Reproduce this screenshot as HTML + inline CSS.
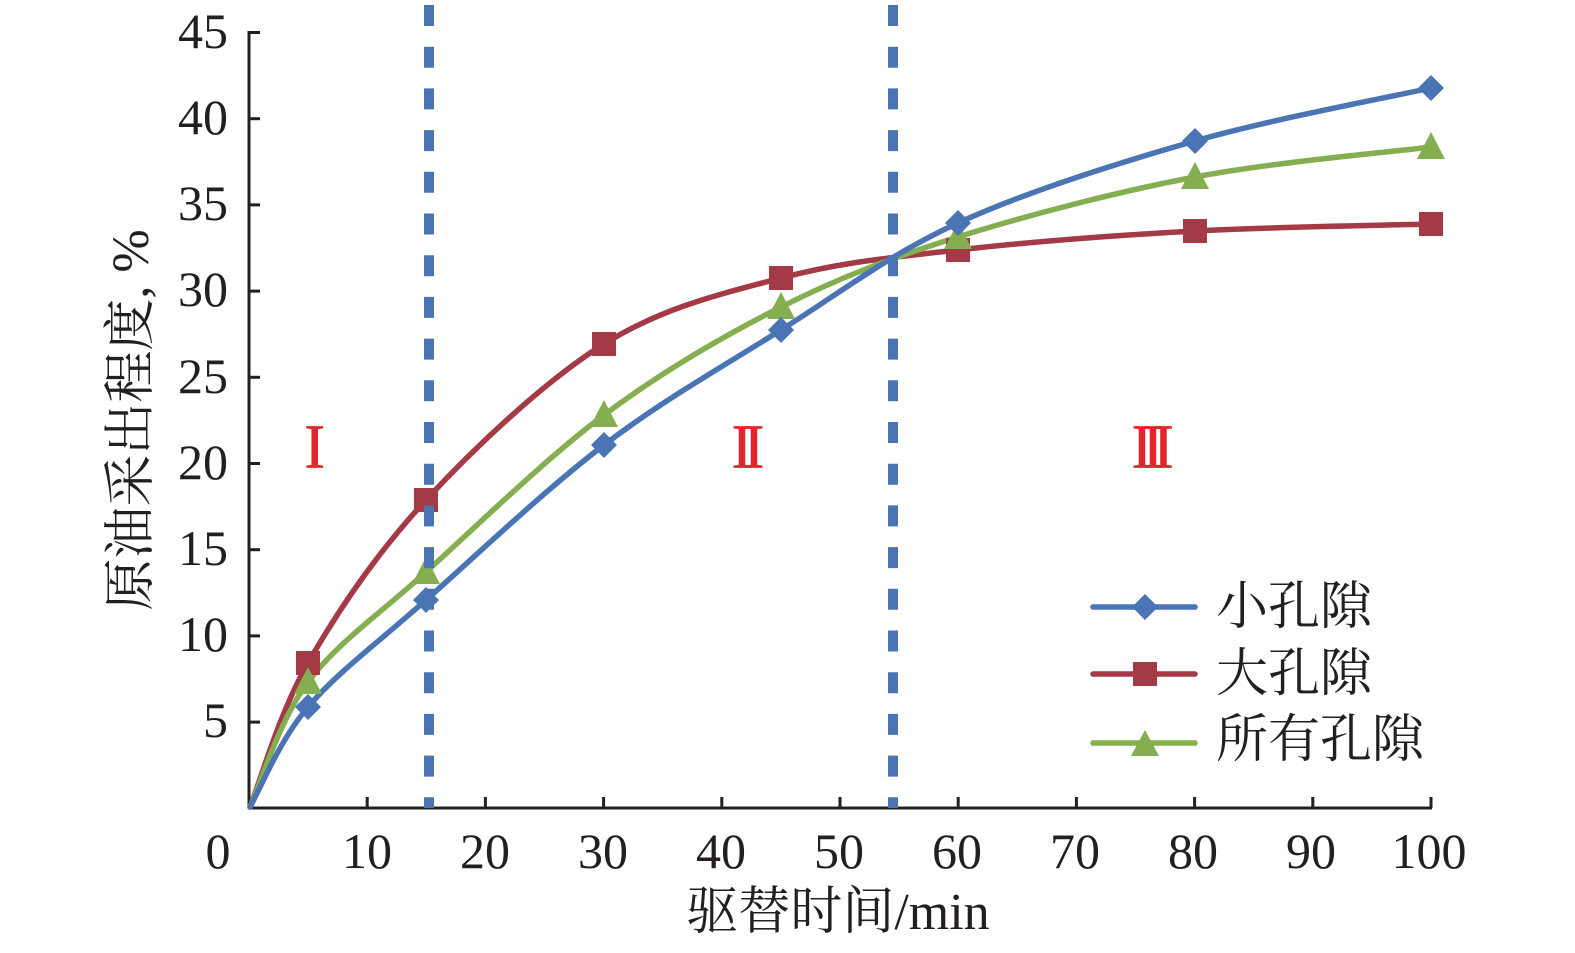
<!DOCTYPE html>
<html>
<head>
<meta charset="utf-8">
<style>
  html,body{margin:0;padding:0;background:#fff;}
  svg{display:block;}
</style>
</head>
<body>
<svg width="1575" height="953" viewBox="0 0 1575 953" xmlns="http://www.w3.org/2000/svg">
  <rect width="1575" height="953" fill="#fff"/>

  <!-- Axes -->
  <g stroke="#231f20" stroke-width="3" fill="none">
    <line x1="249" y1="31" x2="249" y2="809"/>
    <line x1="248" y1="808" x2="1432" y2="808"/>
    <!-- y ticks -->
    <line x1="249" y1="32.5" x2="260" y2="32.5"/>
    <line x1="249" y1="118.7" x2="260" y2="118.7"/>
    <line x1="249" y1="204.9" x2="260" y2="204.9"/>
    <line x1="249" y1="291.1" x2="260" y2="291.1"/>
    <line x1="249" y1="377.3" x2="260" y2="377.3"/>
    <line x1="249" y1="463.5" x2="260" y2="463.5"/>
    <line x1="249" y1="549.7" x2="260" y2="549.7"/>
    <line x1="249" y1="635.9" x2="260" y2="635.9"/>
    <line x1="249" y1="722.1" x2="260" y2="722.1"/>
    <!-- x ticks -->
    <line x1="367.2" y1="808" x2="367.2" y2="797"/>
    <line x1="485.4" y1="808" x2="485.4" y2="797"/>
    <line x1="603.6" y1="808" x2="603.6" y2="797"/>
    <line x1="721.8" y1="808" x2="721.8" y2="797"/>
    <line x1="840" y1="808" x2="840" y2="797"/>
    <line x1="958.2" y1="808" x2="958.2" y2="797"/>
    <line x1="1076.4" y1="808" x2="1076.4" y2="797"/>
    <line x1="1194.6" y1="808" x2="1194.6" y2="797"/>
    <line x1="1312.8" y1="808" x2="1312.8" y2="797"/>
    <line x1="1431" y1="808" x2="1431" y2="797"/>
  </g>

  <!-- Y tick labels -->
  <g font-family="'Liberation Serif', serif" font-size="50" fill="#231f20" text-anchor="end">
    <text x="228" y="48">45</text>
    <text x="228" y="134">40</text>
    <text x="228" y="220">35</text>
    <text x="228" y="306">30</text>
    <text x="228" y="393">25</text>
    <text x="228" y="479">20</text>
    <text x="228" y="565">15</text>
    <text x="228" y="651">10</text>
    <text x="228" y="737">5</text>
  </g>

  <!-- X tick labels -->
  <g font-family="'Liberation Serif', serif" font-size="50" fill="#231f20" text-anchor="middle">
    <text x="218" y="868">0</text>
    <text x="367" y="868">10</text>
    <text x="485" y="868">20</text>
    <text x="603" y="868">30</text>
    <text x="721" y="868">40</text>
    <text x="839" y="868">50</text>
    <text x="957" y="868">60</text>
    <text x="1075" y="868">70</text>
    <text x="1193" y="868">80</text>
    <text x="1311" y="868">90</text>
    <text x="1429" y="868">100</text>
  </g>

  <!-- Axis titles -->
  <text x="838" y="929" text-anchor="middle" font-family="'Liberation Serif', 'Noto Serif CJK SC', serif" font-size="52" fill="#231f20">驱替时间/min</text>
  <text transform="translate(148,420) rotate(-90)" text-anchor="middle" font-family="'Liberation Serif', 'Noto Serif CJK SC', serif" font-size="52" fill="#231f20">原油采出程度, %</text>

  <!-- Region labels (Roman numerals) -->
  <g font-family="'Liberation Serif', serif" font-size="62" fill="#e2262c" stroke="#e2262c" stroke-width="0.7" text-anchor="middle">
    <text x="314.7" y="467.5">I</text>
    <text x="742" y="467.5">I</text>
    <text x="754" y="467.5">I</text>
    <text x="1142" y="467.5">I</text>
    <text x="1153" y="467.5">I</text>
    <text x="1163.5" y="467.5">I</text>
  </g>

  <!-- Series curves -->
  <g fill="none" stroke-width="5.5" stroke-linecap="round" stroke-linejoin="round">
    <!-- Red: 大孔隙 -->
    <path stroke="#a33a46" d="M250,807 C259.7,783 278.7,714.2 308,663 C337.3,611.8 376.7,553.2 426,500 C475.3,446.8 544.8,381 604,344 C663.2,307 722,293.7 781,278 C840,262.3 889,257.8 958,250 C1027,242.2 1116.2,235.3 1195,231 C1273.8,226.7 1391.7,225.2 1431,224"/>
    <!-- Green: 所有孔隙 -->
    <path stroke="#84ae4f" d="M250,807 C259.7,786.2 278.7,721.2 308,682 C337.3,642.8 376.7,616.5 426,572 C475.3,527.5 544.8,459.2 604,415 C663.2,370.8 722,336.7 781,307 C840,277.3 889,258.7 958,237 C1027,215.3 1116.2,192 1195,177 C1273.8,162 1391.7,152 1431,147"/>
    <!-- Blue: 小孔隙 -->
    <path stroke="#4a74b4" d="M250,807 C259.7,790.3 278.7,741.5 308,707 C337.3,672.5 376.7,643.7 426,600 C475.3,556.3 544.8,490 604,445 C663.2,400 722,367 781,330 C840,293 889,254.5 958,223 C1027,191.5 1116.2,163.5 1195,141 C1273.8,118.5 1391.7,96.8 1431,88"/>
  </g>

  <!-- Markers: red squares -->
  <g fill="#a33a46">
    <rect x="296" y="651" width="24" height="24"/>
    <rect x="414" y="488" width="24" height="24"/>
    <rect x="592" y="332" width="24" height="24"/>
    <rect x="769" y="266" width="24" height="24"/>
    <rect x="946" y="238" width="24" height="24"/>
    <rect x="1183" y="219" width="24" height="24"/>
    <rect x="1419" y="212" width="24" height="24"/>
  </g>
  <!-- Markers: green triangles -->
  <g fill="#84ae4f">
    <polygon points="308,667 322,694 294,694"/>
    <polygon points="426,557 440,584 412,584"/>
    <polygon points="604,400 618,427 590,427"/>
    <polygon points="781,292 795,319 767,319"/>
    <polygon points="958,222 972,249 944,249"/>
    <polygon points="1195,162 1209,189 1181,189"/>
    <polygon points="1431,132 1445,159 1417,159"/>
  </g>
  <!-- Markers: blue diamonds -->
  <g fill="#4a74b4">
    <polygon points="308,694 321,707 308,720 295,707"/>
    <polygon points="426,587 439,600 426,613 413,600"/>
    <polygon points="604,432 617,445 604,458 591,445"/>
    <polygon points="781,317 794,330 781,343 768,330"/>
    <polygon points="958,210 971,223 958,236 945,223"/>
    <polygon points="1195,128 1208,141 1195,154 1182,141"/>
    <polygon points="1431,75 1444,88 1431,101 1418,88"/>
  </g>

  <!-- Dashed vertical lines -->
  <g stroke="#4a74b4" stroke-width="10" stroke-dasharray="21 20.7" fill="none">
    <line x1="429" y1="5" x2="429" y2="808"/>
    <line x1="893" y1="5" x2="893" y2="808"/>
  </g>

  <!-- Legend -->
  <g stroke-width="5.5" stroke-linecap="round">
    <line x1="1093" y1="607" x2="1195" y2="607" stroke="#4a74b4"/>
    <line x1="1093" y1="674" x2="1195" y2="674" stroke="#a33a46"/>
    <line x1="1093" y1="743" x2="1195" y2="743" stroke="#84ae4f"/>
  </g>
  <polygon points="1145,594 1158,607 1145,620 1132,607" fill="#4a74b4"/>
  <rect x="1133" y="662" width="24" height="24" fill="#a33a46"/>
  <polygon points="1145,730 1159,756 1131,756" fill="#84ae4f"/>
  <g font-family="'Liberation Serif', 'Noto Serif CJK SC', serif" font-size="52" fill="#231f20">
    <text x="1216" y="624">小孔隙</text>
    <text x="1216" y="691">大孔隙</text>
    <text x="1216" y="757">所有孔隙</text>
  </g>
</svg>
</body>
</html>
